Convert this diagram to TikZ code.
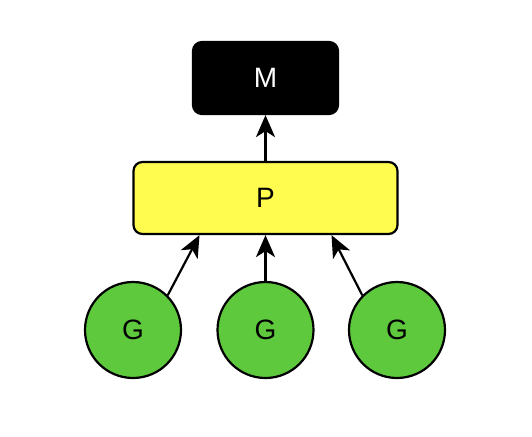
\documentclass[tikz,border=0pt]{standalone}
\usepackage{fontspec}
\setmainfont{Liberation Sans}
\usetikzlibrary{arrows.meta}
\begin{document}
\begin{tikzpicture}[x=1pt,y=-1pt,
  box/.style={draw=black,line width=2.2pt,rounded corners=9pt,inner sep=0pt,font=\fontsize{28}{32}\selectfont},
  gnode/.style={circle,draw=black,line width=2.2pt,fill=gcol,minimum size=96pt,inner sep=0pt,font=\fontsize{28}{32}\selectfont},
  conn/.style={line width=2.2pt,-{Stealth[length=22pt,width=19pt,inset=6pt]}}]
\definecolor{gcol}{RGB}{94,201,61}
\definecolor{pcol}{RGB}{255,252,79}
\useasboundingbox (0,0) rectangle (532,436);
\fill[white] (0,0) rectangle (532,436);
\node[box,fill=black,text=white,minimum width=145pt,minimum height=72pt] (M) at (265.5,78) {M};
\node[box,fill=pcol,minimum width=264pt,minimum height=72pt] (P) at (265.5,198) {P};
\node[gnode] (G1) at (133,330) {G};
\node[gnode] (G2) at (265.5,330) {G};
\node[gnode] (G3) at (397,330) {G};
\draw[conn] (P.north) -- (M.south);
\draw[conn] (G1.45) -- ([xshift=-66pt]P.south);
\draw[conn] (G2.north) -- (P.south);
\draw[conn] (G3.135) -- ([xshift=66pt]P.south);
\end{tikzpicture}
\end{document}
